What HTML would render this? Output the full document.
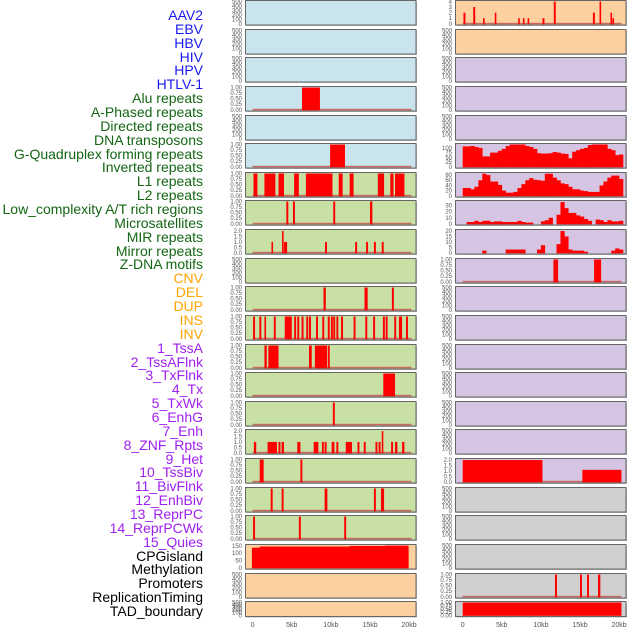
<!DOCTYPE html>
<html><head><meta charset="utf-8"><style>
html,body{margin:0;padding:0;background:#fff;}
#wrap{position:relative;width:630px;height:630px;overflow:hidden;font-family:"Liberation Sans",sans-serif;}
.lbl{position:absolute;right:427px;font-size:14px;line-height:14px;white-space:nowrap;text-align:right;}
</style></head><body>
<div id="wrap">
<div id="labels"></div>
<svg id="chart" width="630" height="630" style="position:absolute;left:0;top:0"></svg>
</div>
<script>
// ---- data ----
const trackNames = ["AAV2","EBV","HBV","HIV","HPV","HTLV-1","Alu repeats","A-Phased repeats","Directed repeats","DNA transposons","G-Quadruplex forming repeats","Inverted repeats","L1 repeats","L2 repeats","Low_complexity A/T rich regions","Microsatellites","MIR repeats","Mirror repeats","Z-DNA motifs","CNV","DEL","DUP","INS","INV","1_TssA","2_TssAFlnk","3_TxFlnk","4_Tx","5_TxWk","6_EnhG","7_Enh","8_ZNF_Rpts","9_Het","10_TssBiv","11_BivFlnk","12_EnhBiv","13_ReprPC","14_ReprPCWk","15_Quies","CPGisland","Methylation","Promoters","ReplicationTiming","TAD_boundary"];
const trackGroups = ["v","v","v","v","v","v","r","r","r","r","r","r","r","r","r","r","r","r","r","s","s","s","s","s","c","c","c","c","c","c","c","c","c","c","c","c","c","c","c","o","o","o","o","o"];
const xTickLabels = ["0","5kb","10kb","15kb","20kb"];
const xTickValues = [0,5,10,15,20];
// interval tracks: [startKb, endKb, value]
const aluBars = [[6.3,8.6,1]];
const gquadBars = [[9.9,11.8,1]];
const invertedBars = [[0.1,0.6,1],[1.5,2.9,1],[3.3,4.0,1],[5.3,5.9,1],[6.8,10.2,1],[11.0,11.5,1],[12.4,12.9,1],[16.0,16.8,1],[17.6,18.0,1],[18.2,19.4,1]];
const row7Bars = [[4.3,4.55,1],[5.15,5.4,1],[10.3,10.55,1],[15.0,15.3,1]];
const mirLeftBars = [[2.4,2.6,1],[3.75,3.95,2],[4.0,4.4,1],[9.25,9.5,1],[13.1,13.35,1],[14.5,14.75,1],[15.5,15.75,1],[16.5,16.75,1]];
const row10Bars = [[9.05,9.35,1],[14.3,14.7,1],[17.8,18.05,1]];
const insBars = [[0.05,0.3,1],[0.85,1.1,1],[1.5,1.7,1],[2.7,2.95,1],[4.1,5.0,1],[5.3,5.55,1],[5.7,5.95,1],[6.25,6.5,1],[6.85,7.1,1],[7.2,7.45,1],[8.1,8.35,1],[8.9,9.15,1],[9.6,9.85,1],[10.0,10.25,1],[10.3,10.55,1],[10.7,10.95,1],[11.3,11.55,1],[12.9,13.15,1],[14.4,14.65,1],[15.4,15.65,1],[16.65,16.9,1],[17.0,17.25,1],[18.1,18.35,1],[18.7,19.1,1],[19.6,19.85,1]];
const tssABars = [[1.5,1.8,1],[2.0,3.3,1],[7.2,7.55,1],[7.95,9.5,1],[9.6,9.85,1]];
const row13Bars = [[16.7,18.2,1]];
const row14Bars = [[10.25,10.5,1]];
const znfBars = [[0.15,0.45,1],[1.9,3.1,1],[3.3,3.55,1],[3.7,4.0,1],[5.7,6.1,1],[7.8,8.4,1],[8.85,9.1,1],[9.2,9.45,1],[10.1,10.45,1],[10.7,10.95,1],[11.9,12.7,1],[13.4,13.65,1],[14.2,14.45,1],[15.7,15.95,1],[16.1,16.35,1],[16.5,16.7,2],[17.7,17.95,1],[18.2,18.5,1],[19.1,19.4,1]];
const row16Bars = [[0.9,1.4,1],[6.1,6.35,1]];
const row17Bars = [[2.3,2.55,1],[3.7,3.95,1],[9.2,9.55,1],[15.5,15.75,1],[16.4,16.8,1]];
const row18Bars = [[0.05,0.3,1],[5.9,6.15,1],[11.7,11.95,1]];
const ebvBars = [[0.1,0.35,2],[1.35,1.6,3],[2.6,2.8,1],[4.1,4.3,2],[7.1,7.3,1],[7.7,7.9,1],[8.3,8.5,1],[10.2,10.45,1],[11.65,11.9,4],[16.65,16.9,2],[17.5,17.7,4],[18.9,19.1,2],[19.15,19.35,1]];
const zdnaBars = [[11.6,12.2,1],[16.8,17.7,1]];
const tssBivBars = [[0,10.2,2],[15.3,20.3,1.1]];
const promoterBars = [[11.8,12.05,1],[15.0,15.25,1],[15.9,16.15,1],[17.3,17.6,1]];
const tadBars = [[0,20.3,1]];
// binned tracks (0.5 kb bins starting at 0)
const gquadCoverage = [108,108,110,105,100,55,55,75,75,85,95,110,118,118,118,118,110,105,95,72,70,70,72,78,75,70,68,45,80,88,95,100,115,118,118,118,118,95,88,62,65];
const l1Coverage = [30,30,25,35,60,85,80,55,55,42,20,12,12,15,30,45,60,68,62,60,58,85,85,70,60,48,45,35,25,25,20,18,15,15,15,40,55,70,78,78,65];
const lowComplexCoverage = [0,3,3,5,3,5,5,3,4,4,3,3,3,3,5,3,2,2,0,0,4,6,10,0,15,36,26,18,18,14,12,8,5,0,7,6,3,6,4,4,5];
const mirCoverage = [0,0,0,0,0,2,0,0,0,0,0,3,3,3,3,3,0,0,0,3,7,0,0,0,8,20,15,3,2,2,2,1,0,0,0,0,0,0,2,4,3];
const cpgCoverage = [138,138,146,146,146,146,146,146,146,146,146,146,146,146,146,146,146,146,146,146,146,146,146,146,146,150,150,150,150,150,150,150,150,150,152,152,152,152,152,152];
</script>
<script>
const colors = {blue:"#c9e4ec",orange:"#fdd09f",purple:"#d5c5e2",green:"#c9e0a5",gray:"#d0d0d0"};
const labelColor = {v:"#1a1aee",r:"#146614",s:"#ffa500",c:"#a020f0",o:"#000"};
const T_EMPTY = {ticks:[0,100,200,300,400,500],max:500,fmt:v=>String(v)};
const T_BIN = {ticks:[0,0.25,0.5,0.75,1],max:1,fmt:v=>v.toFixed(2)};
const T_TWO = {ticks:[0,0.5,1,1.5,2],max:2.05,fmt:v=>v.toFixed(1)};
const rows = [
 [{bg:"blue",ax:T_EMPTY},{bg:"orange",ax:{ticks:[0,1,2,3,4],max:4,fmt:String},bars:ebvBars,base:true}],
 [{bg:"blue",ax:T_EMPTY},{bg:"orange",ax:T_EMPTY}],
 [{bg:"blue",ax:T_EMPTY},{bg:"purple",ax:T_EMPTY}],
 [{bg:"blue",ax:T_BIN,bars:aluBars,base:true},{bg:"purple",ax:T_EMPTY}],
 [{bg:"blue",ax:T_EMPTY},{bg:"purple",ax:T_EMPTY}],
 [{bg:"blue",ax:T_BIN,bars:gquadBars,base:true},{bg:"purple",ax:{ticks:[0,25,50,75,100],max:118,fmt:String},bins:gquadCoverage}],
 [{bg:"green",ax:T_BIN,bars:invertedBars,base:true},{bg:"purple",ax:{ticks:[0,20,40,60,80],max:86,fmt:String},bins:l1Coverage}],
 [{bg:"green",ax:T_BIN,bars:row7Bars,base:true},{bg:"purple",ax:{ticks:[0,10,20,30],max:37,fmt:String},bins:lowComplexCoverage}],
 [{bg:"green",ax:T_TWO,bars:mirLeftBars,base:true},{bg:"purple",ax:{ticks:[0,5,10,15,20],max:20.5,fmt:String},bins:mirCoverage}],
 [{bg:"green",ax:T_EMPTY},{bg:"purple",ax:T_BIN,bars:zdnaBars,base:true}],
 [{bg:"green",ax:T_BIN,bars:row10Bars,base:true},{bg:"purple",ax:T_EMPTY}],
 [{bg:"green",ax:T_BIN,bars:insBars,base:true},{bg:"purple",ax:T_EMPTY}],
 [{bg:"green",ax:T_BIN,bars:tssABars,base:true},{bg:"purple",ax:T_EMPTY}],
 [{bg:"green",ax:T_BIN,bars:row13Bars,base:true},{bg:"purple",ax:T_EMPTY}],
 [{bg:"green",ax:T_BIN,bars:row14Bars,base:true},{bg:"purple",ax:T_EMPTY}],
 [{bg:"green",ax:T_TWO,bars:znfBars,base:true},{bg:"purple",ax:T_EMPTY}],
 [{bg:"green",ax:T_BIN,bars:row16Bars,base:true},{bg:"purple",ax:T_TWO,bars:tssBivBars,base:true}],
 [{bg:"green",ax:T_BIN,bars:row17Bars,base:true},{bg:"gray",ax:T_EMPTY}],
 [{bg:"green",ax:T_BIN,bars:row18Bars,base:true},{bg:"gray",ax:T_EMPTY}],
 [{bg:"orange",ax:{ticks:[0,50,100,150],max:153,fmt:String},bins:cpgCoverage,binStart:-0.1},{bg:"gray",ax:T_EMPTY}],
 [{bg:"orange",ax:T_EMPTY},{bg:"gray",ax:T_BIN,bars:promoterBars,base:true}],
 [{bg:"orange",ax:T_EMPTY},{bg:"gray",ax:T_BIN,bars:tadBars}]
];
const NS="http://www.w3.org/2000/svg";
const svg=document.getElementById('chart');
function mk(tag,attrs,parent){const e=document.createElementNS(NS,tag);for(const k in attrs)e.setAttribute(k,attrs[k]);(parent||svg).appendChild(e);return e;}
const colX=[{left:245.5,x0:252.7},{left:455.5,x0:462.7}];
const PW=170.5, KPX=7.82;
rows.forEach((row,i)=>{
  const top=Math.round(i*28.63)+0.5;
  const h = i===21?15:24.5;
  row.forEach((p,c)=>{
    const g=mk('g',{});
    
    
    const L=colX[c].left, x0=colX[c].x0;
    const xs=kb=>x0+kb*KPX;
    const bottom=top+h-1.2, ys=v=>bottom-(v/p.ax.max)*(h-2.2);
    mk('rect',{x:L+1,y:top+1,width:PW,height:h,fill:'#bbb'},g);
    mk('rect',{x:L,y:top,width:PW,height:h,fill:colors[p.bg],stroke:'#666','stroke-width':1},g);
    if(p.base){mk('rect',{x:xs(0),y:bottom-1,width:xs(20.3)-xs(0),height:1.5,fill:'#c86a60'},g);}
    if(p.bars){p.bars.forEach(d=>{
      const r=mk('rect',{x:xs(d[0]),y:ys(d[2]),width:Math.max(1.6,xs(d[1])-xs(d[0])),height:bottom-ys(d[2])+0.5,fill:'#ff0000'},g);
      
      
    });}
    if(p.bins){const s0=p.binStart||0;p.bins.forEach((v,j)=>{
      if(v<=0)return;
      const r=mk('rect',{x:xs(s0+j*0.5),y:ys(v),width:xs(0.5)-xs(0)+0.3,height:bottom-ys(v)+0.5,fill:'#ff0000'},g);
      
      
    });}
    p.ax.ticks.forEach(t=>{
      const tx=mk('text',{x:L-3.5,y:ys(t)+2,'font-size':6,fill:'#555','text-anchor':'end','font-family':'Liberation Sans, sans-serif'},g);
      tx.textContent=p.ax.fmt(t);
      
      
    });
  });
});
colX.forEach(cx=>{
  xTickValues.forEach((v,k)=>{
    const t=mk('text',{x:cx.x0+v*KPX,y:627,'font-size':7,fill:'#555','text-anchor':'middle','font-family':'Liberation Sans, sans-serif'});
    t.textContent=xTickLabels[k];
    
    
  });
});
const lab=document.getElementById('labels');
trackNames.forEach((n,i)=>{
  const d=document.createElement('div');
  d.className='lbl';
  d.style.top=(8+i*13.86)+'px';
  d.style.color=labelColor[trackGroups[i]];
  d.textContent=n;
  
  
  lab.appendChild(d);
});
</script>
</body></html>
